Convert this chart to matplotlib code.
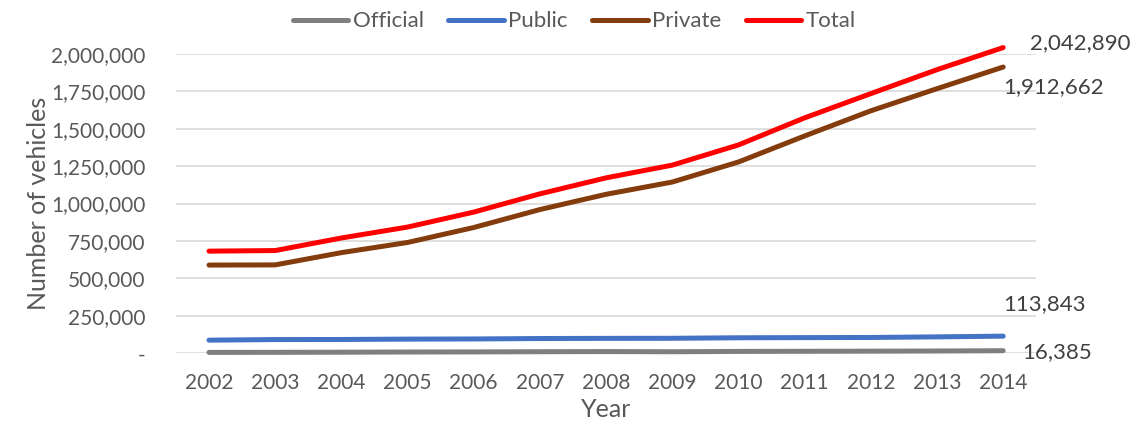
import matplotlib.pyplot as plt
from matplotlib.ticker import FuncFormatter

years = [2002, 2003, 2004, 2005, 2006, 2007, 2008, 2009, 2010, 2011, 2012, 2013, 2014]

official = [5200, 5600, 6500, 7800, 8400, 9800, 10800, 9600, 11800, 12600, 13400, 14500, 16385]
public = [87000, 91000, 91500, 94000, 95000, 98000, 99000, 99500, 103000, 104000, 105000, 109000, 113843]
private = [589000, 590000, 672000, 740000, 840000, 960000, 1062000, 1144000, 1278000, 1452000, 1620000, 1768000, 1912662]
total = [682000, 686000, 770000, 843000, 943000, 1065000, 1172000, 1257000, 1392000, 1573000, 1735000, 1895000, 2042890]

series = [
    ('Official', official, '#7f7f7f'),
    ('Public', public, '#4472c4'),
    ('Private', private, '#843c0c'),
    ('Total', total, '#ff0000'),
]

text_color = '#595959'
label_color = '#404040'
plt.rcParams['font.family'] = ['Lato', 'DejaVu Sans']

fig = plt.figure(figsize=(11.35, 4.25), dpi=100)
ax = fig.add_axes([0.155, 0.169, 0.758, 0.704])

x = list(range(len(years)))
for name, vals, color in series:
    ax.plot(x, vals, color=color, linewidth=3.6, solid_capstyle='round',
            label=name, clip_on=False, zorder=3)

ax.set_xlim(-0.5, len(years) - 0.5)
ax.set_ylim(0, 2000000)
ax.set_yticks(range(0, 2000001, 250000))
ax.yaxis.set_major_formatter(FuncFormatter(lambda v, p: '-' if v == 0 else f'{int(v):,}'))
ax.set_xticks(x)
ax.set_xticklabels([str(y) for y in years])

ax.grid(axis='y', color='#d9d9d9', linewidth=1.2)
ax.set_axisbelow(True)
for s in ax.spines.values():
    s.set_visible(False)
ax.tick_params(length=0, labelsize=15, colors=text_color)
ax.tick_params(axis='x', pad=14)
ax.tick_params(axis='y', pad=22)

ax.set_ylabel('Number of vehicles', fontsize=18, color=text_color, labelpad=1)
ax.set_xlabel('Year', fontsize=18, color=text_color, labelpad=4)

# value labels at the 2014 end of each line
last = len(years) - 1
common = dict(textcoords='offset points', fontsize=16, color=label_color,
              ha='left', annotation_clip=False)
ax.annotate(f'{total[-1]:,}', (last, total[-1]), xytext=(19, 3), va='center', **common)
ax.annotate(f'{private[-1]:,}', (last, private[-1]), xytext=(0, -7), va='top', **common)
ax.annotate(f'{public[-1]:,}', (last, public[-1]), xytext=(0, 16), va='bottom', **common)
ax.annotate(f'{official[-1]:,}', (last, official[-1]), xytext=(14, -1), va='center', **common)

fig.legend(loc='upper center', bbox_to_anchor=(0.506, 1.02), ncol=4, frameon=False,
           fontsize=16, labelcolor=text_color, handlelength=2.5, handletextpad=0.2,
           columnspacing=1.1)

fig.savefig('out.png', dpi=100)
